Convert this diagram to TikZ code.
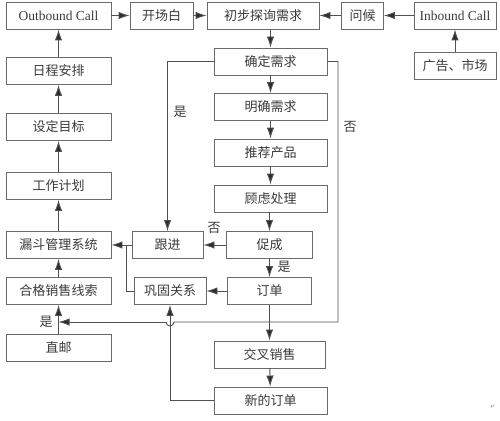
\documentclass[tikz,border=0pt]{standalone}
\usepackage{fontspec}
\setmainfont{Liberation Serif}
\newfontfamily\cjk{Noto Sans CJK SC}
\newfontfamily\dvs{DejaVu Sans}
\usetikzlibrary{arrows.meta}
\definecolor{bordc}{HTML}{6A6A6A}
\definecolor{linec}{HTML}{505050}
\definecolor{arrc}{HTML}{2E2E2E}
\definecolor{txtc}{HTML}{3A3A3A}
\begin{document}
\begin{tikzpicture}[x=1pt,y=-1pt,
  box/.style={draw=bordc,line width=0.9pt,minimum height=27pt,inner sep=0pt,text=txtc,font=\cjk\fontsize{13}{15}\selectfont},
  enbox/.style={box,font=\fontsize{13.5}{15}\selectfont},
  arr/.style={draw=linec,line width=0.9pt,-{Latex[length=11pt,width=7.5pt,fill=arrc]}},
  ln/.style={draw=linec,line width=0.9pt},
  lab/.style={text=txtc,font=\cjk\fontsize{13}{15}\selectfont,inner sep=0pt}]
\useasboundingbox (0,0) rectangle (500,420);
% top row
\node[enbox,minimum width=105pt] (out) at (58.5,15.5) {Outbound Call};
\node[box,minimum width=63pt] (kcb) at (161.5,15.5) {开场白};
\node[box,minimum width=112pt] (cb) at (263,15.5) {初步探询需求};
\node[box,minimum width=42pt] (wh) at (362.5,15.5) {问候};
\node[enbox,minimum width=82pt] (inb) at (455,15.5) {Inbound Call};
\node[box,minimum width=82pt] (gg) at (455,65.5) {广告、市场};
% middle column
\node[box,minimum width=113pt] (qd) at (270.5,61.5) {确定需求};
\node[box,minimum width=113pt] (mq) at (270.5,107) {明确需求};
\node[box,minimum width=113pt] (tj) at (270.5,152.5) {推荐产品};
\node[box,minimum width=113pt] (gl) at (270.5,198.5) {顾虑处理};
\node[box,minimum width=86pt] (cc) at (269.5,245) {促成};
\node[box,minimum width=84pt] (dd) at (269.5,291) {订单};
\node[box,minimum width=111pt] (jc) at (269.5,354.5) {交叉销售};
\node[box,minimum width=113pt] (xd) at (270.5,400.5) {新的订单};
% inner column
\node[box,minimum width=71pt] (gj) at (167.5,245) {跟进};
\node[box,minimum width=72pt] (ggx) at (170,291) {巩固关系};
% left column
\node[box,minimum width=105pt] (rc) at (58.5,71) {日程安排};
\node[box,minimum width=105pt] (sd) at (58.5,127) {设定目标};
\node[box,minimum width=105pt] (gz) at (58.5,186) {工作计划};
\node[box,minimum width=105pt] (ld) at (58.5,245) {漏斗管理系统};
\node[box,minimum width=105pt] (hg) at (58.5,291) {合格销售线索};
\node[box,minimum width=105pt] (zy) at (58.5,348) {直邮};
% coordinates
\coordinate (mj) at (58.5,322);
\coordinate (jn) at (126,245);
\coordinate (rt) at (338,61.5);
\coordinate (rb) at (338,322);
\coordinate (hopr) at (174,322);
% top row arrows
\draw[arr] (out) -- (kcb);
\draw[arr] (kcb) -- (cb);
\draw[arr] (wh) -- (cb);
\draw[arr] (inb) -- (wh);
\draw[arr] (gg) -- (inb);
% middle chain
\draw[arr] (cb.south -| qd) -- (qd.north);
\draw[arr] (qd) -- (mq);
\draw[arr] (mq) -- (tj);
\draw[arr] (tj) -- (gl);
\draw[arr] (gl.south -| cc) -- (cc.north);
\draw[arr] (cc) -- (dd);
\draw[arr] (dd) -- (jc);
\draw[arr] (jc) -- (xd);
% branches
\draw[arr] (qd.west) -| (gj.north);
\draw[ln] (qd.east) -- (rt) -- (rb) -- (hopr) arc[start angle=0,end angle=180,radius=4];
\draw[arr] (166,322) -- (mj);
\draw[arr] (cc) -- (gj);
\draw[arr] (dd) -- (ggx);
\draw[arr] (gj) -- (ld);
\draw[ln] (ggx.west) -| (jn);
\draw[arr] (xd.west) -| (ggx.south);
% left column
\draw[arr] (zy) -- (hg);
\draw[arr] (hg) -- (ld);
\draw[arr] (ld) -- (gz);
\draw[arr] (gz) -- (sd);
\draw[arr] (sd) -- (rc);
\draw[arr] (rc) -- (out);
% labels
\node[lab] (l1) at (180,112) {是};
\node[lab] (l2) at (350,127) {否};
\node[lab] (l3) at (214,228) {否};
\node[lab] (l4) at (284,267) {是};
\node[lab] (l5) at (46,322) {是};
\node[text=gray,font=\dvs\fontsize{6}{7}\selectfont,inner sep=0pt] (rm) at (493,407) {↵};
\end{tikzpicture}
\end{document}
